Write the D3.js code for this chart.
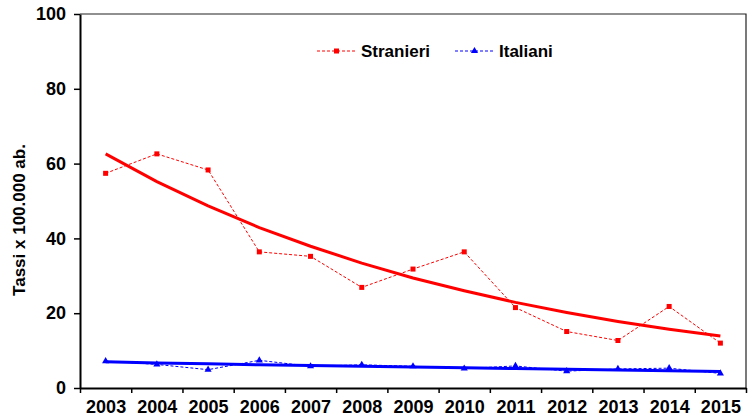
<!DOCTYPE html>
<html>
<head>
<meta charset="utf-8">
<script src="https://cdn.jsdelivr.net/npm/d3@7"></script>
<style>
  body { margin: 0; background: #fff; }
  text { font-family: "Liberation Sans", Arial, sans-serif; font-weight: bold; }
</style>
</head>
<body>
<div id="chart"></div>
<script>
var years = [2003, 2004, 2005, 2006, 2007, 2008, 2009, 2010, 2011, 2012, 2013, 2014, 2015];
var stranieri = [57.4, 62.6, 58.3, 36.4, 35.2, 26.9, 31.8, 36.4, 21.5, 15.1, 12.7, 21.8, 12.0];
var italiani = [7.2, 6.3, 4.9, 7.4, 5.8, 6.2, 5.8, 5.2, 5.9, 4.5, 5.1, 5.3, 3.9];
// trend lines
var stranieriTrend = [62.6, 55.2, 48.7, 42.9, 37.9, 33.4, 29.4, 26.0, 22.9, 20.2, 17.8, 15.7, 13.9];
var italianiTrend = [7.0, 6.7, 6.5, 6.2, 6.0, 5.8, 5.6, 5.4, 5.2, 5.0, 4.8, 4.6, 4.4];
var yTicks = [0, 20, 40, 60, 80, 100];
var seriesNames = ["Stranieri", "Italiani"];

var margin = {
    top: 14,
    right: 8,
    bottom: 32,
    left: 80
  },
  width = 754 - margin.left - margin.right,
  height = 420 - margin.top - margin.bottom;

var svg = d3.select("#chart").append("svg")
  .attr("width", width + margin.left + margin.right)
  .attr("height", height + margin.top + margin.bottom);

var g = svg.append("g")
  .attr("transform", "translate(" + margin.left + "," + margin.top + ")");

var x = d3.scaleLinear()
  .domain([years[0] - 0.5, years[years.length - 1] + 0.5])
  .range([0, width]);

var y = d3.scaleLinear()
  .domain([0, 100])
  .range([height, 0]);

// frame top / right
g.append("path")
  .attr("d", "M0,0H" + width + "V" + height)
  .attr("fill", "none")
  .attr("stroke", "#222")
  .attr("stroke-width", 1.2);

// y axis
var yAxis = g.append("g")
  .call(d3.axisLeft(y).tickValues(yTicks).tickSize(6).tickPadding(8).tickSizeOuter(0));
yAxis.selectAll("text").attr("font-size", 18).attr("fill", "#000").attr("font-family", null);
yAxis.selectAll("line").attr("stroke", "#000").attr("stroke-width", 1.5);
yAxis.select(".domain").attr("stroke", "#000").attr("stroke-width", 2);

// x axis: marks at band edges, labels at centres
var edges = years.map(function(d) { return d - 0.5; }).concat([years[years.length - 1] + 0.5]);
var xMarks = g.append("g")
  .attr("transform", "translate(0," + height + ")")
  .call(d3.axisBottom(x).tickValues(edges).tickSize(5).tickSizeOuter(0).tickFormat(""));
xMarks.selectAll("line").attr("stroke", "#000").attr("stroke-width", 1.5);
xMarks.select(".domain").attr("stroke", "#000").attr("stroke-width", 2);

var xLabels = g.append("g")
  .attr("transform", "translate(0," + height + ")")
  .call(d3.axisBottom(x).tickValues(years).tickSize(0).tickPadding(12).tickFormat(d3.format("d")));
xLabels.select(".domain").remove();
xLabels.selectAll("text").attr("font-size", 18).attr("fill", "#000").attr("font-family", null);

// y axis title
svg.append("text")
  .attr("transform", "translate(25,220) rotate(-90)")
  .attr("text-anchor", "middle")
  .attr("font-size", 17)
  .attr("fill", "#000")
  .text("Tassi x 100.000 ab.");

var line = d3.line()
  .x(function(d, i) { return x(years[i]); })
  .y(function(d) { return y(d); });

var tri = d3.symbol().type(d3.symbolTriangle).size(22);

function drawSeries(values, trend, color, marker) {
  g.append("path")
    .attr("d", line(values))
    .attr("fill", "none")
    .attr("stroke", color)
    .attr("stroke-width", 1)
    .attr("stroke-dasharray", "3,2");

  if (marker == "square") {
    g.selectAll(null).data(values).enter().append("rect")
      .attr("x", function(d, i) { return x(years[i]) - 2.5; })
      .attr("y", function(d) { return y(d) - 2.5; })
      .attr("width", 5)
      .attr("height", 5)
      .attr("fill", color);
  } else {
    g.selectAll(null).data(values).enter().append("path")
      .attr("d", tri)
      .attr("transform", function(d, i) { return "translate(" + x(years[i]) + "," + y(d) + ")"; })
      .attr("fill", color);
  }

  g.append("path")
    .attr("d", line(trend))
    .attr("fill", "none")
    .attr("stroke", color)
    .attr("stroke-width", 3);
}

drawSeries(stranieri, stranieriTrend, "#ff0000", "square");
drawSeries(italiani, italianiTrend, "#0000ff", "triangle");

// legend
var legend = [
  { name: seriesNames[0], color: "#ff0000", x: 317, marker: "square" },
  { name: seriesNames[1], color: "#0000ff", x: 455, marker: "triangle" }
];
var ly = 51;
legend.forEach(function(l) {
  svg.append("line")
    .attr("x1", l.x).attr("x2", l.x + 39)
    .attr("y1", ly).attr("y2", ly)
    .attr("stroke", l.color)
    .attr("stroke-width", 1)
    .attr("stroke-dasharray", "3,2");
  if (l.marker == "square") {
    svg.append("rect")
      .attr("x", l.x + 17).attr("y", ly - 2.5)
      .attr("width", 5).attr("height", 5)
      .attr("fill", l.color);
  } else {
    svg.append("path")
      .attr("d", tri)
      .attr("transform", "translate(" + (l.x + 19.5) + "," + ly + ")")
      .attr("fill", l.color);
  }
  svg.append("text")
    .attr("x", l.x + 44)
    .attr("y", ly + 6)
    .attr("font-size", 17)
    .attr("fill", "#000")
    .text(l.name);
});
</script>
</body>
</html>
